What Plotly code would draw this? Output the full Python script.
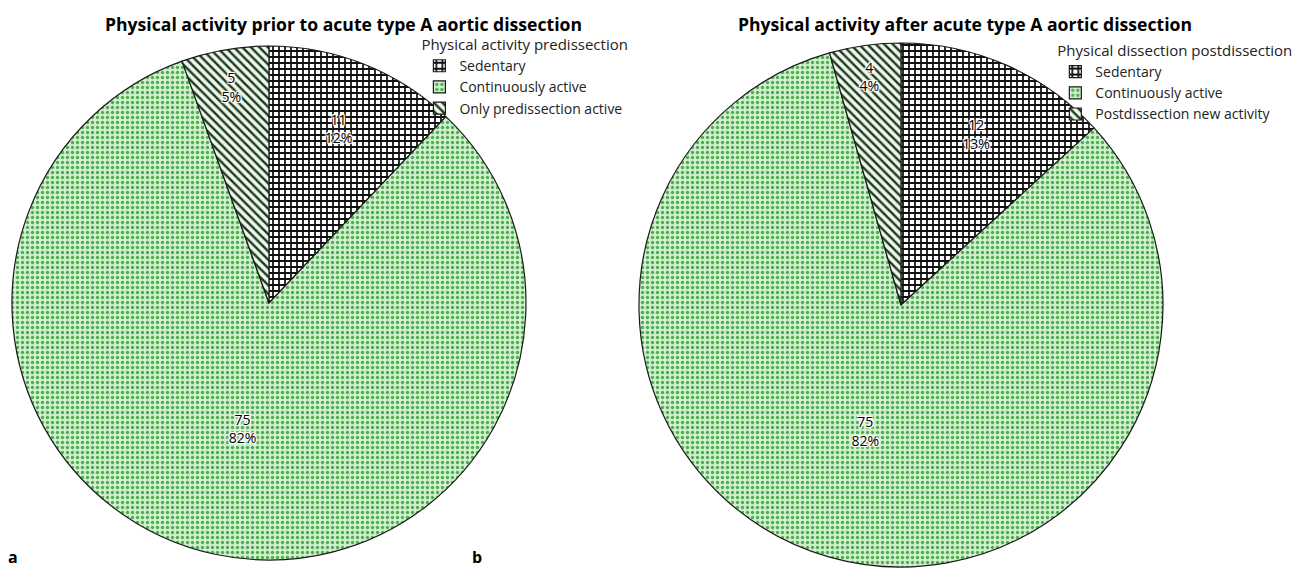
import plotly.graph_objects as go

# data
labels_pre = ["Sedentary", "Continuously active", "Only predissection active"]
values_pre = [11, 75, 5]
labels_post = ["Sedentary", "Continuously active", "Postdissection new activity"]
values_post = [12, 75, 4]

title_pre = "Physical activity prior to acute type A aortic dissection"
title_post = "Physical activity after acute type A aortic dissection"
legend_title_pre = "Physical activity predissection"
legend_title_post = "Physical dissection postdissection"

FONT = "Open Sans"
W, H = 1300, 570
bgs = ["#ffffff", "#d2f0d0", "#eef6ee"]
fgs = ["#111111", "#4fae4f", "#1c3a1c"]
shapes = ["+", ".", "\\"]


def pattern():
    return dict(shape=shapes, fgcolor=fgs, bgcolor=bgs, size=[6, 5, 6],
                solidity=[0.5, 0.35, 0.4], fillmode="replace")


halo = ("1px 1px 0 white, -1px -1px 0 white, 1px -1px 0 white, -1px 1px 0 white, "
        "0 0 3px white, 0 0 4px white")


def pie(labels, values, dom, legend):
    # trailing space keeps legend entries of the two pies separate (invisible in SVG)
    lab = [l + (" " if legend == "legend2" else "") for l in labels]
    return go.Pie(
        labels=lab, values=values, sort=False, direction="clockwise", rotation=0,
        marker=dict(colors=bgs, line=dict(color="#1a1a1a", width=1.2), pattern=pattern()),
        texttemplate="%{value}<br>%{percent:.0%}", textposition="inside",
        insidetextorientation="horizontal",
        insidetextfont=dict(family=FONT, size=14, color="black", shadow=halo),
        domain=dom, legend=legend, hoverinfo="label+value+percent",
    )


fig = go.Figure()
fig.add_trace(pie(labels_pre, values_pre, dict(x=[0.0092, 0.4046], y=[0.0175, 0.9193]), "legend"))
fig.add_trace(pie(labels_post, values_post, dict(x=[0.4915, 0.8946], y=[0.0053, 0.9246]), "legend2"))

leg_common = dict(bgcolor="rgba(0,0,0,0)", borderwidth=0, xanchor="left", yanchor="top",
                  font=dict(family=FONT, size=14, color="#222"), tracegroupgap=0,
                  itemwidth=30)


def ann(text, x, y, size=15, xanchor="center", yanchor="middle"):
    return dict(text=text, x=x / W, y=1 - y / H, xref="paper", yref="paper",
                xanchor=xanchor, yanchor=yanchor, showarrow=False,
                font=dict(family=FONT, size=size, color="black"))


fig.update_layout(
    width=W, height=H,
    margin=dict(l=0, r=0, t=0, b=0),
    paper_bgcolor="white", plot_bgcolor="white",
    font=dict(family=FONT, color="#222"),
    legend=dict(title=dict(text=legend_title_pre, font=dict(family=FONT, size=15)),
                x=0.3226, y=0.9462, **leg_common),
    legend2=dict(title=dict(text=legend_title_post, font=dict(family=FONT, size=15)),
                 x=0.8118, y=0.936, **leg_common),
    annotations=[
        ann("<b>" + title_pre + "</b>", 343, 24, size=17.6),
        ann("<b>" + title_post + "</b>", 964.5, 24, size=17.6),
        ann("<b>a</b>", 6, 557, size=16, xanchor="left"),
        ann("<b>b</b>", 470, 557, size=16, xanchor="left"),
    ],
)

fig.write_html("out.html", config={"displayModeBar": False},
               post_script="document.body.style.margin='0px';")
